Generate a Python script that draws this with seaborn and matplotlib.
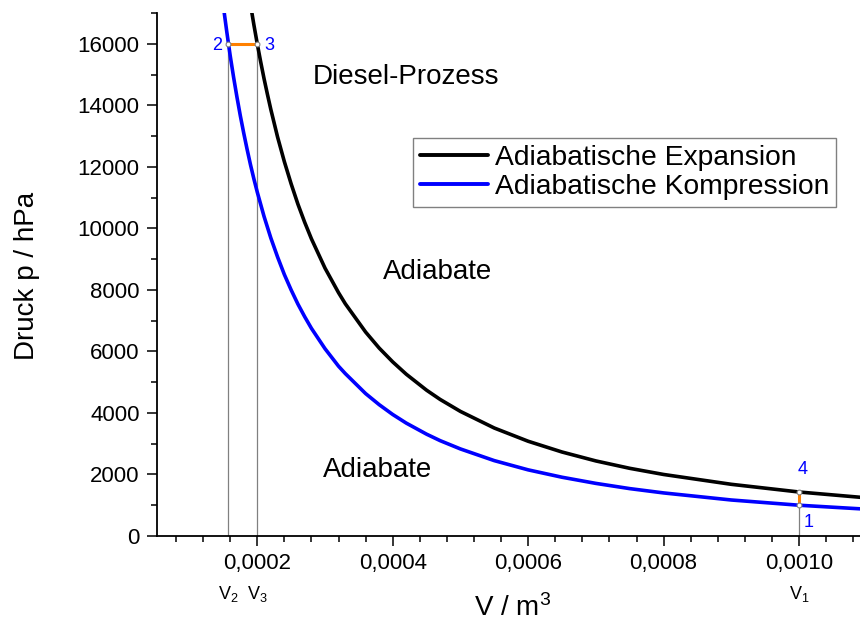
import pandas as pd
import matplotlib
matplotlib.use('Agg')
import matplotlib.pyplot as plt
import seaborn as sns
from matplotlib.ticker import MultipleLocator, FuncFormatter

# Data (V in m^3, p in hPa)
V_KOMPRESSION = [0.00015, 0.000155, 0.00016, 0.000165, 0.00017, 0.000175, 0.00018, 0.000185,
                 0.00019, 0.000195, 0.0002, 0.00021, 0.00022, 0.00023, 0.00024, 0.00025,
                 0.00026, 0.00027, 0.00028, 0.0003, 0.00032, 0.00033, 0.00036, 0.00038,
                 0.0004, 0.00042, 0.00045, 0.00047, 0.0005, 0.00055, 0.0006, 0.00065,
                 0.0007, 0.00075, 0.0008, 0.0009, 0.001, 0.0011]
P_KOMPRESSION = [17210, 16390, 15620, 14920, 14270, 13660, 13100, 12570,
                 12070, 11610, 11180, 10390, 9690, 9070, 8500, 8000,
                 7540, 7130, 6750, 6090, 5520, 5280, 4630, 4270,
                 3950, 3670, 3310, 3100, 2830, 2450, 2150, 1910,
                 1710, 1540, 1400, 1170, 1000, 870]
V_EXPANSION = [0.00019, 0.000195, 0.0002, 0.000205, 0.00021, 0.000215, 0.00022, 0.00023,
               0.00024, 0.00025, 0.00026, 0.00027, 0.00028, 0.0003, 0.00032, 0.00033,
               0.00036, 0.00038, 0.0004, 0.00042, 0.00045, 0.00047, 0.0005, 0.00055,
               0.0006, 0.00065, 0.0007, 0.00075, 0.0008, 0.0009, 0.001, 0.0011]
P_EXPANSION = [17280, 16620, 16000, 15420, 14870, 14360, 13870, 12970,
               12170, 11450, 10790, 10200, 9660, 8710, 7910, 7550,
               6630, 6110, 5660, 5260, 4740, 4440, 4050, 3510,
               3080, 2730, 2440, 2200, 2000, 1680, 1430, 1240]

# Zustandspunkte 1..4
POINT_NAMES = ['1', '2', '3', '4']
POINT_V = [0.001, 0.0001575, 0.0002, 0.001]
POINT_P = [1000, 16000, 16000, 1430]
V_LABELS = ['V$_1$', 'V$_2$', 'V$_3$']

sns.set_style('ticks')
plt.rcParams['font.family'] = ['Liberation Sans', 'DejaVu Sans']
plt.rcParams['mathtext.default'] = 'regular'
plt.rcParams.update({'text.color': 'black', 'axes.labelcolor': 'black',
                     'xtick.color': 'black', 'ytick.color': 'black',
                     'axes.edgecolor': 'black'})

df = pd.concat([
    pd.DataFrame({'V': V_EXPANSION, 'p': P_EXPANSION, 'Kurve': 'Adiabatische Expansion'}),
    pd.DataFrame({'V': V_KOMPRESSION, 'p': P_KOMPRESSION, 'Kurve': 'Adiabatische Kompression'}),
])

fig = plt.figure(figsize=(8.6, 6.21), dpi=100)
ax = fig.add_axes([0.1826, 0.1369, 0.8174, 0.842])

# thin guide lines from the states down to the axis
for v, p in [(POINT_V[1], POINT_P[1]), (POINT_V[2], POINT_P[2]), (POINT_V[3], POINT_P[3])]:
    ax.plot([v, v], [0, p], color='#808080', lw=0.9, zorder=1)

sns.lineplot(data=df, x='V', y='p', hue='Kurve', sort=False,
             palette={'Adiabatische Expansion': 'black', 'Adiabatische Kompression': '#0000ff'},
             linewidth=2.6, ax=ax, zorder=3)

# isobar 2->3 and isochore 4->1
ax.plot([POINT_V[1], POINT_V[2]], [POINT_P[1], POINT_P[2]], color='#ff8000', lw=2.2, zorder=4)
ax.plot([POINT_V[3], POINT_V[0]], [POINT_P[3], POINT_P[0]], color='#ff8000', lw=2.2, zorder=4)
ax.scatter(POINT_V, POINT_P, s=12, facecolor='white', edgecolor='#808080', lw=0.8, zorder=5)

ax.text(POINT_V[0] + 0.000014, 430, POINT_NAMES[0], color='#0000ff', fontsize=13, ha='center', va='center')
ax.text(POINT_V[1] - 0.00001, 15950, POINT_NAMES[1], color='#0000ff', fontsize=13, ha='right', va='center')
ax.text(POINT_V[2] + 0.00001, 15950, POINT_NAMES[2], color='#0000ff', fontsize=13, ha='left', va='center')
ax.text(POINT_V[3] + 0.000005, 2150, POINT_NAMES[3], color='#0000ff', fontsize=13, ha='center', va='center')

ax.text(0.000282, 14920, 'Diesel-Prozess', fontsize=20, va='center')
ax.text(0.000385, 8570, 'Adiabate', fontsize=20, va='center')
ax.text(0.000297, 2150, 'Adiabate', fontsize=20, va='center')

ax.set_xlim(0.000052, 0.00109)
ax.set_ylim(0, 17000)
ax.xaxis.set_major_locator(MultipleLocator(0.0002))
ax.xaxis.set_minor_locator(MultipleLocator(0.00004))
ax.yaxis.set_major_locator(MultipleLocator(2000))
ax.yaxis.set_minor_locator(MultipleLocator(1000))
ax.xaxis.set_major_formatter(FuncFormatter(lambda x, pos: f'{x:.4f}'.replace('.', ',')))
ax.tick_params(axis='both', which='major', direction='out', length=7.5, width=1.1,
               labelsize=16, pad=5)
ax.tick_params(axis='both', which='minor', direction='out', length=4, width=1.1)
for s in ['left', 'bottom']:
    ax.spines[s].set_linewidth(1.3)
sns.despine(ax=ax)

# V-labels below the tick labels
for lab, v in zip(V_LABELS, [POINT_V[0], POINT_V[1], POINT_V[2]]):
    ax.text(v, -0.092, lab, transform=ax.get_xaxis_transform(), fontsize=13,
            ha='center', va='top')

ax.set_xlabel('V / m$^3$', fontsize=20)
ax.set_ylabel('Druck p / hPa', fontsize=20)
ax.xaxis.set_label_coords(0.505, -0.112)
ax.yaxis.set_label_coords(-0.166, 0.497)

leg = ax.legend(loc='upper left', bbox_to_anchor=(0.364, 0.761), fontsize=20.3,
                frameon=True, fancybox=False, edgecolor='#808080', framealpha=1,
                handlelength=2.4, handletextpad=0.25, labelspacing=0.1, borderpad=0.25,
                borderaxespad=0)
leg.get_frame().set_linewidth(1.0)
for line in leg.get_lines():
    line.set_linewidth(2.8)

plt.savefig('out.png', dpi=100)
